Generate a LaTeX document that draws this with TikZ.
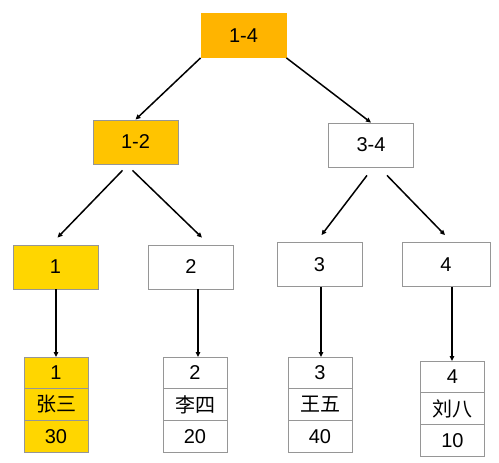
\documentclass[tikz,border=0pt]{standalone}
\usepackage{fontspec}
\setmainfont{Liberation Sans}
\newfontfamily\cjk{Noto Sans CJK SC}
\usepackage{tikz}
\usetikzlibrary{positioning,arrows.meta,calc}
\definecolor{segorange}{RGB}{255,180,0}
\definecolor{seggold}{RGB}{255,196,0}
\definecolor{segyellow}{RGB}{255,214,0}
\definecolor{segline}{RGB}{150,150,150}
\tikzset{
  seg/.style={rectangle, draw=segline, fill=white, line width=0.8pt, minimum width=85pt,
              minimum height=44pt, inner sep=0pt, font=\fontsize{20}{23}\selectfont},
  hotseg/.style={seg, fill=seggold},
  cell/.style={rectangle, draw=segline, fill=white, line width=0.8pt, minimum width=64pt,
               minimum height=31.7pt, inner sep=0pt, outer sep=0pt, font=\fontsize{20}{23}\selectfont},
  hotcell/.style={cell, fill=segyellow},
  edge/.style={-{Triangle[length=5pt,width=4.5pt]}, line width=1.5pt, black}
}
\begin{document}
\begin{tikzpicture}[x=1pt,y=-1pt]
        \useasboundingbox (0,0) rectangle (499,463);
        % segment tree
        \node[hotseg, fill=segorange, draw=segorange] (n14) at (243.5,35.5) {1-4};
        \node[hotseg] (n12) at (135.5,142) {1-2};
        \node[seg] (n34) at (371,145) {3-4};
        \node[hotseg, fill=segyellow] (n1) at (55.5,267) {1};
        \node[seg] (n2) at (191,267) {2};
        \node[seg] (n3) at (319.5,264.5) {3};
        \node[seg, minimum width=88pt] (n4) at (446,264.5) {4};
        % rows
        \node[hotcell, anchor=north] (r1a) at (56,357) {1};
        \node[hotcell, below=0pt of r1a] (r1b) {\cjk 张三};
        \node[hotcell, below=0pt of r1b] (r1c) {30};
        \node[cell, anchor=north] (r2a) at (195,357) {2};
        \node[cell, below=0pt of r2a] (r2b) {\cjk 李四};
        \node[cell, below=0pt of r2b] (r2c) {20};
        \node[cell, anchor=north] (r3a) at (320,357) {3};
        \node[cell, below=0pt of r3a] (r3b) {\cjk 王五};
        \node[cell, below=0pt of r3b] (r3c) {40};
        \node[cell, anchor=north] (r4a) at (452.5,361) {4};
        \node[cell, below=0pt of r4a] (r4b) {\cjk 刘八};
        \node[cell, below=0pt of r4b] (r4c) {10};
        \draw[edge] (n14.south west) -- (n12.north);
        \draw[edge] (n14.south east) -- (n34.north);
        \draw[edge] ($(n12.south)+(-13,6)$) -- ($(n1.north)+(2,-7)$);
        \draw[edge] ($(n12.south)+(-3,6)$) -- ($(n2.north)+(11,-7)$);
        \draw[edge] ($(n34.south)+(-4,8)$) -- ($(n3.north)+(2,-7)$);
        \draw[edge] ($(n34.south)+(16,8)$) -- ($(n4.north)+(-1,-7)$);
        \draw[edge] ($(n1.south)+(0.5,0)$) -- (r1a.north);
        \draw[edge] ($(n2.south)+(7,0)$) -- ($(r2a.north)+(3,0)$);
        \draw[edge] ($(n3.south)+(1.5,0)$) -- ($(r3a.north)+(1,0)$);
        \draw[edge] ($(n4.south)+(6,0)$) -- ($(r4a.north)+(-0.5,0)$);
\end{tikzpicture}
\end{document}
